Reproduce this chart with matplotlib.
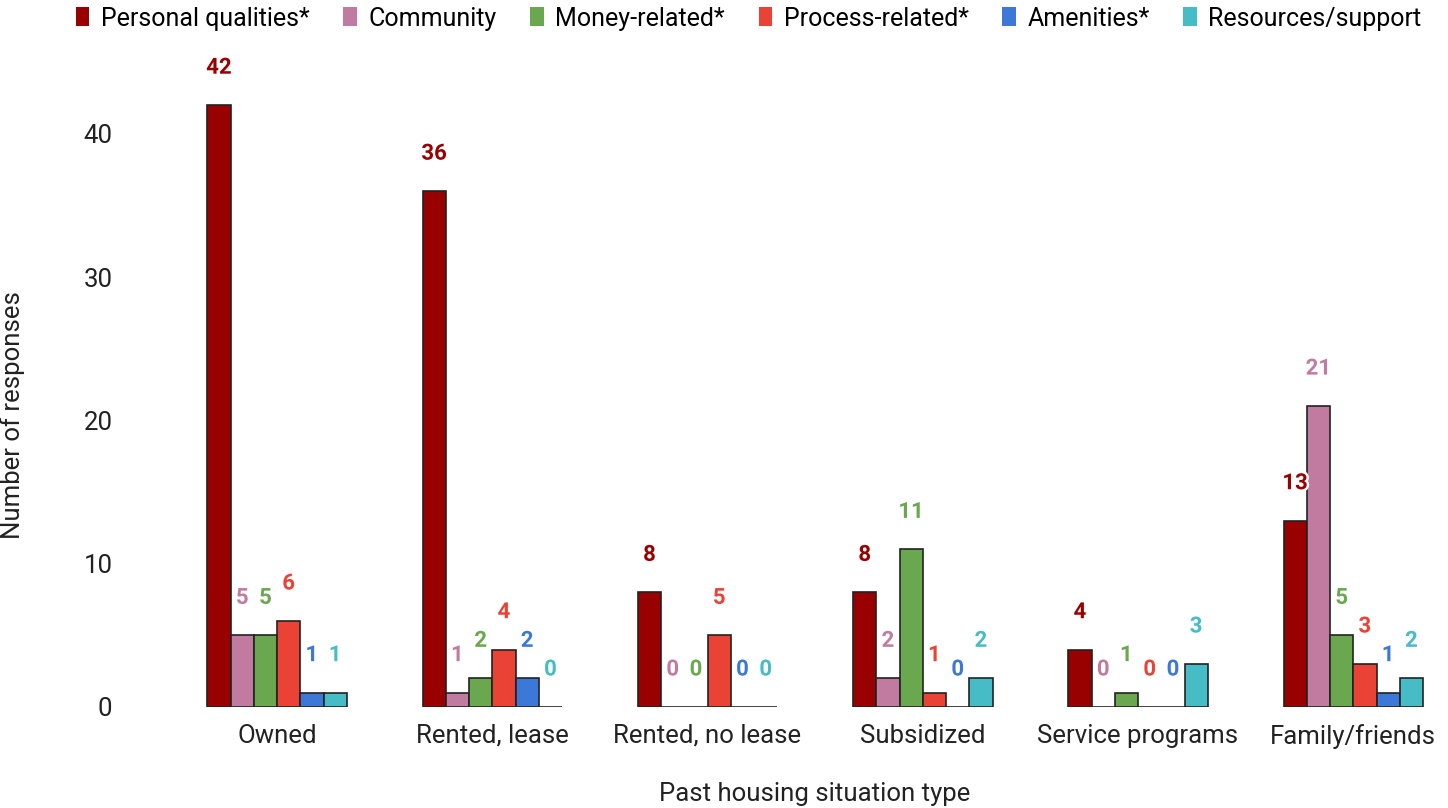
import numpy as np
import matplotlib
matplotlib.use("Agg")
import matplotlib.pyplot as plt
import matplotlib.patheffects as pe
from matplotlib.patches import Patch

plt.rcParams['font.family'] = ['Roboto', 'DejaVu Sans']

# data
categories = ["Owned", "Rented, lease", "Rented, no lease", "Subsidized",
              "Service programs", "Family/friends"]
series_names = ["Personal qualities*", "Community", "Money-related*",
                "Process-related*", "Amenities*", "Resources/support"]
personal = [42, 36, 8, 8, 4, 13]
community = [5, 1, 0, 2, 0, 21]
money = [5, 2, 0, 11, 1, 5]
process = [6, 4, 5, 1, 0, 3]
amenities = [1, 2, 0, 0, 0, 1]
resources = [1, 0, 0, 2, 3, 2]
colors = ["#990000", "#C27BA0", "#6AA84F", "#EA4335", "#3C78D8", "#46BDC6"]

all_series = [personal, community, money, process, amenities, resources]

fig = plt.figure(figsize=(14.48, 8.08), dpi=100)
ax = fig.add_axes([0.117, 0.125, 0.883, 0.798])

x = np.arange(len(categories))
bw = 0.108
n = len(all_series)
for i, (vals, name, c) in enumerate(zip(all_series, series_names, colors)):
    xs = x + (i - (n - 1) / 2) * bw
    ax.bar(xs, vals, width=bw, color=c, edgecolor="#222222", linewidth=1.2)
    for xi, v in zip(xs, vals):
        ax.annotate(str(v), (xi, v), xytext=(0, 27), textcoords="offset points",
                    ha="center", va="center", fontsize=16, fontweight="bold",
                    color=c,
                    path_effects=[pe.withStroke(linewidth=3.5, foreground="white")])

ax.set_xlim(-0.5, 5.44)
ax.set_ylim(0, 45)
ax.set_yticks([0, 10, 20, 30, 40])
ax.set_xticks(x)
ax.set_xticklabels(categories)
ax.tick_params(axis="both", length=0, labelsize=18.5, colors="#222222")
ax.tick_params(axis="y", pad=41)
ax.tick_params(axis="x", pad=12)
for s in ax.spines.values():
    s.set_visible(False)

ax.set_xlabel("Past housing situation type", fontsize=18.5, color="#222222")
ax.set_ylabel("Number of responses", fontsize=18.5, color="#222222")
ax.xaxis.set_label_coords(0.505, -0.116)
ax.yaxis.set_label_coords(-0.113, 0.453)

handles = [Patch(facecolor=c, edgecolor="none", label=nm)
           for c, nm in zip(colors, series_names)]
fig.legend(handles=handles, loc="center", bbox_to_anchor=(0.517, 0.977), ncol=6,
           frameon=False, fontsize=18, handlelength=0.55, handleheight=0.8,
           handletextpad=0.45, columnspacing=1.35)

fig.savefig("out.png", dpi=100)
